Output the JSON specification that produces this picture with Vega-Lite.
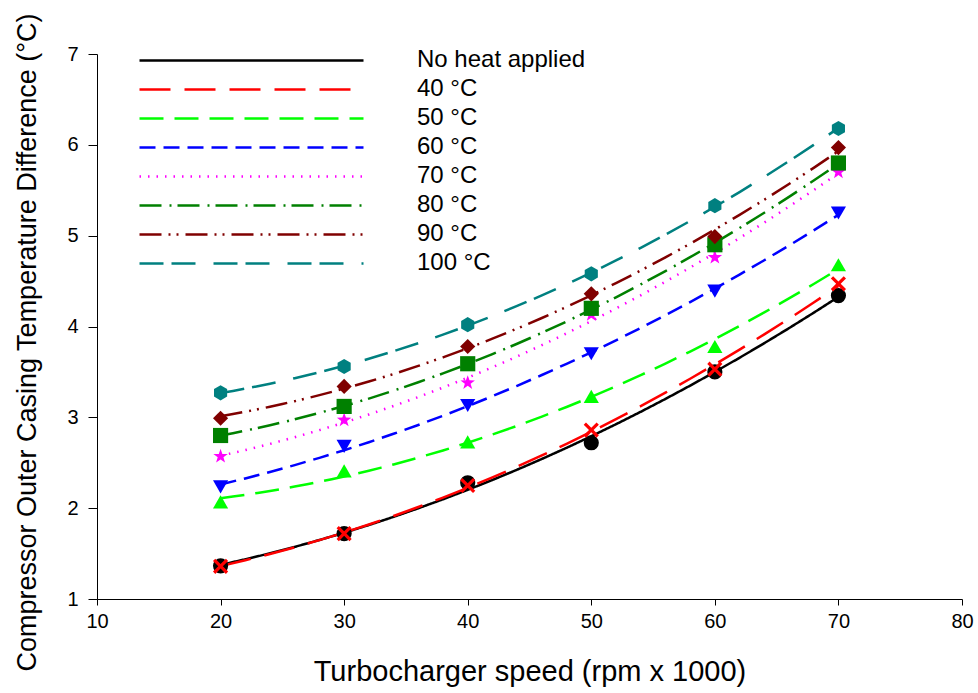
{
  "$schema": "https://vega.github.io/schema/vega-lite/v6.json",
  "width": 865,
  "height": 545,
  "autosize": {"type": "none"},
  "padding": {"left": 97, "top": 54, "right": 16, "bottom": 94},
  "background": "white",
  "config": {
    "view": {"stroke": null},
    "font": "Liberation Sans",
    "axis": {"domainColor": "black", "tickColor": "black", "labelColor": "black", "titleColor": "black", "grid": false, "labelFont": "Liberation Sans", "titleFont": "Liberation Sans", "titleFontWeight": "normal"},
    "legend": {
      "orient": "none", "legendX": 41, "legendY": -8, "padding": 0, "rowPadding": 0,
      "clipHeight": 28.9, "symbolType": "stroke", "symbolSize": 50176, "symbolStrokeWidth": 2.5,
      "labelOffset": 52, "labelFontSize": 24, "labelFont": "Liberation Sans", "labelColor": "black", "labelLimit": 400
    }
  },
  "resolve": {"legend": {"shape": "independent", "size": "independent", "fill": "independent"}},
  "data": {"values": [
    {"series": "No heat applied", "speed": 20, "value": 1.365},
    {"series": "No heat applied", "speed": 30, "value": 1.72},
    {"series": "No heat applied", "speed": 40, "value": 2.28},
    {"series": "No heat applied", "speed": 50, "value": 2.72},
    {"series": "No heat applied", "speed": 60, "value": 3.50},
    {"series": "No heat applied", "speed": 70, "value": 4.34},
    {"series": "40 °C", "speed": 20, "value": 1.36},
    {"series": "40 °C", "speed": 30, "value": 1.72},
    {"series": "40 °C", "speed": 40, "value": 2.25},
    {"series": "40 °C", "speed": 50, "value": 2.86},
    {"series": "40 °C", "speed": 60, "value": 3.53},
    {"series": "40 °C", "speed": 70, "value": 4.47},
    {"series": "50 °C", "speed": 20, "value": 2.07},
    {"series": "50 °C", "speed": 30, "value": 2.41},
    {"series": "50 °C", "speed": 40, "value": 2.73},
    {"series": "50 °C", "speed": 50, "value": 3.23},
    {"series": "50 °C", "speed": 60, "value": 3.78},
    {"series": "50 °C", "speed": 70, "value": 4.68},
    {"series": "60 °C", "speed": 20, "value": 2.235},
    {"series": "60 °C", "speed": 30, "value": 2.68},
    {"series": "60 °C", "speed": 40, "value": 3.13},
    {"series": "60 °C", "speed": 50, "value": 3.70},
    {"series": "60 °C", "speed": 60, "value": 4.39},
    {"series": "60 °C", "speed": 70, "value": 5.25},
    {"series": "70 °C", "speed": 20, "value": 2.57},
    {"series": "70 °C", "speed": 30, "value": 2.97},
    {"series": "70 °C", "speed": 40, "value": 3.38},
    {"series": "70 °C", "speed": 50, "value": 4.13},
    {"series": "70 °C", "speed": 60, "value": 4.76},
    {"series": "70 °C", "speed": 70, "value": 5.70},
    {"series": "80 °C", "speed": 20, "value": 2.80},
    {"series": "80 °C", "speed": 30, "value": 3.12},
    {"series": "80 °C", "speed": 40, "value": 3.59},
    {"series": "80 °C", "speed": 50, "value": 4.20},
    {"series": "80 °C", "speed": 60, "value": 4.90},
    {"series": "80 °C", "speed": 70, "value": 5.80},
    {"series": "90 °C", "speed": 20, "value": 2.99},
    {"series": "90 °C", "speed": 30, "value": 3.34},
    {"series": "90 °C", "speed": 40, "value": 3.78},
    {"series": "90 °C", "speed": 50, "value": 4.36},
    {"series": "90 °C", "speed": 60, "value": 4.99},
    {"series": "90 °C", "speed": 70, "value": 5.97},
    {"series": "100 °C", "speed": 20, "value": 3.27},
    {"series": "100 °C", "speed": 30, "value": 3.56},
    {"series": "100 °C", "speed": 40, "value": 4.02},
    {"series": "100 °C", "speed": 50, "value": 4.58},
    {"series": "100 °C", "speed": 60, "value": 5.33},
    {"series": "100 °C", "speed": 70, "value": 6.18}
  ]},
  "encoding": {
    "x": {"field": "speed", "type": "quantitative", "scale": {"domain": [10, 80], "nice": false, "zero": false},
      "axis": {"values": [10, 20, 30, 40, 50, 60, 70, 80], "tickSize": 6, "labelPadding": 6, "labelFontSize": 20, "labelFlush": false,
        "title": "Turbocharger speed (rpm x 1000)", "titleFontSize": 29, "titleY": 72, "titleBaseline": "middle"}},
    "y": {"field": "value", "type": "quantitative", "scale": {"domain": [1, 7], "nice": false, "zero": false},
      "axis": {"values": [1, 2, 3, 4, 5, 6, 7], "tickSize": 9, "labelPadding": 10, "labelFontSize": 20, "labelFlush": false,
        "title": "Compressor Outer Casing Temperature Difference (°C)", "titleFontSize": 27, "titleX": -70, "titleY": 288, "titleAngle": -90, "titleAlign": "center", "titleBaseline": "middle"}}
  },
  "layer": [
    {
      "transform": [{"regression": "value", "on": "speed", "groupby": ["series"], "method": "poly", "order": 2, "extent": [20, 70]}],
      "mark": {"type": "line", "strokeWidth": 2.5},
      "encoding": {
        "color": {"field": "series", "type": "nominal",
          "scale": {"domain": ["No heat applied", "40 °C", "50 °C", "60 °C", "70 °C", "80 °C", "90 °C", "100 °C"],
                    "range": ["#000000", "#ff0000", "#00ff00", "#0000ff", "#ff00ff", "#008000", "#800000", "#008080"]},
          "legend": {"title": null, "symbolType": "stroke"}},
        "strokeDash": {"field": "series", "type": "nominal",
          "scale": {"domain": ["No heat applied", "40 °C", "50 °C", "60 °C", "70 °C", "80 °C", "90 °C", "100 °C"],
                    "range": [[1, 0], [31, 14], [24, 11], [16, 8], [1.5, 7], [22, 8, 2, 6], [22, 7, 2, 6, 2, 7], [24, 8, 24, 18]]},
          "legend": {"title": null, "symbolType": "stroke"}}
      }
    },
    {
      "mark": {"type": "point", "filled": true, "opacity": 1},
      "encoding": {
        "fill": {"field": "series", "type": "nominal", "legend": null,
          "scale": {"domain": ["No heat applied", "40 °C", "50 °C", "60 °C", "70 °C", "80 °C", "90 °C", "100 °C"],
                    "range": ["#000000", "#ff0000", "#00ff00", "#0000ff", "#ff00ff", "#008000", "#800000", "#008080"]}},
        "shape": {"field": "series", "type": "nominal", "legend": null,
          "scale": {"domain": ["No heat applied", "40 °C", "50 °C", "60 °C", "70 °C", "80 °C", "90 °C", "100 °C"],
                    "range": ["circle",
                              "M-1,-0.7L-0.7,-1L0,-0.3L0.7,-1L1,-0.7L0.3,0L1,0.7L0.7,1L0,0.3L-0.7,1L-1,0.7L-0.3,0Z",
                              "triangle-up", "triangle-down",
                              "M0,-1L0.235,-0.324L0.951,-0.309L0.380,0.124L0.588,0.809L0,0.4L-0.588,0.809L-0.380,0.124L-0.951,-0.309L-0.235,-0.324Z",
                              "square", "diamond",
                              "M0,-1L0.866,-0.5L0.866,0.5L0,1L-0.866,0.5L-0.866,-0.5Z"]}},
        "size": {"field": "series", "type": "nominal", "legend": null,
          "scale": {"domain": ["No heat applied", "40 °C", "50 °C", "60 °C", "70 °C", "80 °C", "90 °C", "100 °C"],
                    "range": [230, 230, 300, 300, 340, 230, 330, 300]}}
      }
    }
  ]
}
